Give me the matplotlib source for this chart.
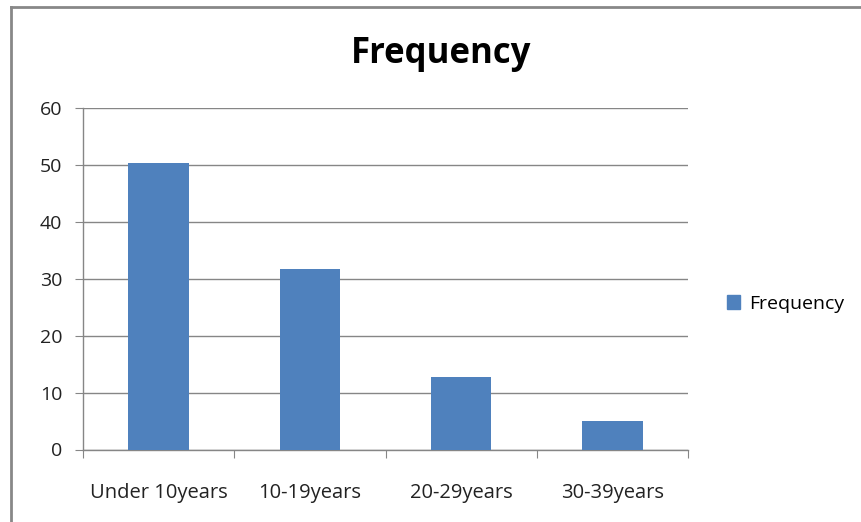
import matplotlib
matplotlib.use("Agg")
import matplotlib.pyplot as plt
from matplotlib.lines import Line2D
from matplotlib.patches import Patch

plt.rcParams.update({"font.family": ["Open Sans", "DejaVu Sans"]})

categories = ["Under 10years", "10-19years", "20-29years", "30-39years"]
frequency = [50.3, 31.7, 12.7, 5.0]
yticks = [0, 10, 20, 30, 40, 50, 60]

BLUE = "#4F81BD"
GRID = "#868686"
W, H = 861, 522

fig = plt.figure(figsize=(W / 100, H / 100), dpi=100)
ax = fig.add_axes([83 / W, 1 - 449.5 / H, (688 - 83) / W, (449.5 - 108) / H])

xs = range(len(categories))
ax.bar(xs, frequency, width=0.4, color=BLUE, zorder=3, label="Frequency")
ax.set_xlim(-0.5, len(categories) - 0.5)
ax.set_ylim(0, 60)
ax.set_yticks(yticks)
ax.yaxis.grid(True, color=GRID, lw=1)
ax.set_axisbelow(True)

for s in ("top", "right"):
    ax.spines[s].set_visible(False)
for s in ("left", "bottom"):
    ax.spines[s].set_color(GRID)
    ax.spines[s].set_linewidth(1)

# category ticks sit on the boundaries, labels in between
ax.set_xticks([i - 0.5 for i in range(len(categories) + 1)])
ax.set_xticklabels([""] * (len(categories) + 1))
ax.set_xticks(list(xs), minor=True)
ax.set_xticklabels(categories, minor=True, fontsize=14.5, color="#222222")
ax.tick_params(axis="x", which="major", length=6, color=GRID, direction="out")
ax.tick_params(axis="x", which="minor", length=0, pad=24)
ax.tick_params(axis="y", length=6, color=GRID, labelsize=14, labelcolor="#222222", pad=9)

fig.text(441 / W, 1 - 54 / H, "Frequency", ha="center", va="center",
         fontsize=25, fontweight="bold", color="black")

fig.legend(handles=[Patch(color=BLUE, label="Frequency")], loc="center left",
           bbox_to_anchor=(709 / W, 1 - 304 / H), frameon=False, fontsize=14,
           handlelength=0.7, handleheight=0.7, handletextpad=0.45)

# chart border (top and left edges visible in the crop)
fig.add_artist(Line2D([11 / W, 1], [1 - 7 / H] * 2, color="#888888", lw=2))
fig.add_artist(Line2D([11 / W] * 2, [0, 1 - 7 / H], color="#888888", lw=2))

fig.savefig("out.png", dpi=100)
